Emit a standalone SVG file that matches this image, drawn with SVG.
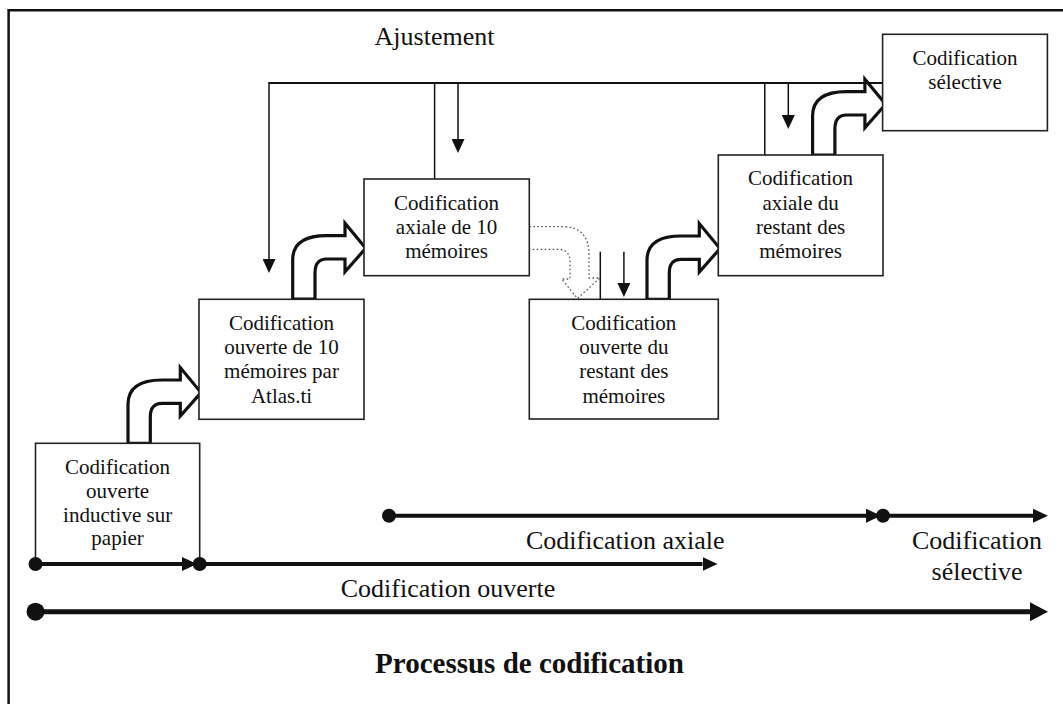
<svg xmlns="http://www.w3.org/2000/svg" width="1063" height="704" viewBox="0 0 1063 704">
  <style>
    .frame { fill: none; stroke: #111; stroke-width: 2.5; }
    .box { fill: #fff; stroke: #222; stroke-width: 1.6; }
    .lbl { font-family: "Liberation Serif", "Times New Roman", serif; font-size: 21px; fill: #111; text-anchor: middle; }
    .big { font-family: "Liberation Serif", "Times New Roman", serif; font-size: 26px; fill: #111; text-anchor: middle; }
    .title { font-family: "Liberation Serif", "Times New Roman", serif; font-size: 29px; font-weight: bold; fill: #111; text-anchor: middle; }
    .fb { fill: none; stroke: #111; stroke-width: 1.5; }
    .fbtop { fill: none; stroke: #111; stroke-width: 2.2; }
    .bend { fill: #fff; stroke: #111; stroke-width: 3.2; stroke-linejoin: miter; }
    .bend-dot { fill: none; stroke: #555; stroke-width: 1.3; stroke-dasharray: 1.6 2.4; }
    .tl { fill: none; stroke: #111; stroke-width: 4; }
    .tl-main { fill: none; stroke: #111; stroke-width: 5; }
    .dot { fill: #111; }
  </style>
  <defs>
    <marker id="thin" markerUnits="userSpaceOnUse" markerWidth="14" markerHeight="13" refX="0" refY="6.5" orient="auto">
      <path d="M0,0 L14,6.5 L0,13 z" fill="#111"/>
    </marker>
    <marker id="tl" markerUnits="userSpaceOnUse" markerWidth="15" markerHeight="14" refX="0" refY="7" orient="auto">
      <path d="M0,0 L15,7 L0,14 z" fill="#111"/>
    </marker>
    <marker id="tlbig" markerUnits="userSpaceOnUse" markerWidth="18" markerHeight="19" refX="0" refY="9.5" orient="auto">
      <path d="M0,0 L18,9.5 L0,19 z" fill="#111"/>
    </marker>
    <!-- bent block arrow, base at the origin, pointing up then right -->
    <path id="bent" d="M0,0 V-39 Q0,-63.3 34,-63.3 H52.3 V-75.7 L73,-50.7 L52.3,-27.3 V-40 H34 Q22.3,-40 22.3,-26 V0 Z"/>
  </defs>

  <!-- page frame -->
  <path class="frame" d="M8.6,704 V10.3 H1063"/>

  <text class="big" x="434.5" y="45">Ajustement</text>

  <!-- connectors -->
  <g id="connectors">
    <!-- adjustment loop -->
    <path class="fbtop" d="M269,83 H883"/>
    <path class="fb" d="M269,82 V259" marker-end="url(#thin)"/>
    <path class="fb" d="M434.6,83 V179"/>
    <path class="fb" d="M458,83 V139" marker-end="url(#thin)"/>
    <path class="fb" d="M764.8,83 V155"/>
    <path class="fb" d="M788.3,83 V115" marker-end="url(#thin)"/>
    <path class="fb" d="M600.3,251.7 V299.3"/>
    <path class="fb" d="M623.9,251.7 V283" marker-end="url(#thin)"/>

    <!-- bent block arrows between stages -->
    <use href="#bent" class="bend" transform="translate(128,443.3)"/>
    <use href="#bent" class="bend" transform="translate(292.7,299)"/>
    <use href="#bent" class="bend" transform="translate(647,299.3)"/>
    <use href="#bent" class="bend" transform="translate(812.6,155)"/>

    <!-- dotted bent arrow down to the open coding of the rest -->
    <path class="bend-dot" d="M529.3,226.7 H563 Q589,226.7 589,255 V278 L600,278 L577.5,298.5 L561.7,279 L570,279 V262 Q570,249.3 558,249.3 H529.3"/>
  </g>

  <!-- stage boxes -->
  <g id="node-inductive">
    <rect class="box" x="35.5" y="443.3" width="164.2" height="120.7"/>
    <text class="lbl" x="117.6" y="474">Codification</text>
    <text class="lbl" x="117.6" y="498">ouverte</text>
    <text class="lbl" x="117.6" y="522">inductive sur</text>
    <text class="lbl" x="117.6" y="545">papier</text>
  </g>
  <g id="node-ouverte-10">
    <rect class="box" x="199" y="299.3" width="165" height="120"/>
    <text class="lbl" x="281.5" y="330">Codification</text>
    <text class="lbl" x="281.5" y="354">ouverte de 10</text>
    <text class="lbl" x="281.5" y="378">mémoires par</text>
    <text class="lbl" x="281.5" y="402.5">Atlas.ti</text>
  </g>
  <g id="node-axiale-10">
    <rect class="box" x="364" y="179" width="165.3" height="96.7"/>
    <text class="lbl" x="446.6" y="210">Codification</text>
    <text class="lbl" x="446.6" y="233.5">axiale de 10</text>
    <text class="lbl" x="446.6" y="258">mémoires</text>
  </g>
  <g id="node-ouverte-restant">
    <rect class="box" x="529.3" y="299.3" width="189" height="119.7"/>
    <text class="lbl" x="623.8" y="330">Codification</text>
    <text class="lbl" x="623.8" y="353.5">ouverte du</text>
    <text class="lbl" x="623.8" y="378">restant des</text>
    <text class="lbl" x="623.8" y="403">mémoires</text>
  </g>
  <g id="node-axiale-restant">
    <rect class="box" x="718.3" y="155" width="164.7" height="120.7"/>
    <text class="lbl" x="800.6" y="185">Codification</text>
    <text class="lbl" x="800.6" y="210">axiale du</text>
    <text class="lbl" x="800.6" y="233.5">restant des</text>
    <text class="lbl" x="800.6" y="258">mémoires</text>
  </g>
  <g id="node-selective">
    <rect class="box" x="882.6" y="34.3" width="164.8" height="96.4"/>
    <text class="lbl" x="965" y="65">Codification</text>
    <text class="lbl" x="965" y="89.3">sélective</text>
  </g>

  <!-- coding timelines -->
  <g id="timeline">
    <line class="tl" x1="35.5" y1="564" x2="182" y2="564" marker-end="url(#tl)"/>
    <circle class="dot" cx="35.5" cy="564" r="7"/>
    <line class="tl" x1="199.7" y1="564" x2="702.5" y2="564" marker-end="url(#tl)"/>
    <circle class="dot" cx="199.7" cy="564" r="7"/>

    <line class="tl" x1="389" y1="515.7" x2="866" y2="515.7" marker-end="url(#tl)"/>
    <circle class="dot" cx="389" cy="515.7" r="7"/>
    <line class="tl" x1="883" y1="515.7" x2="1033" y2="515.7" marker-end="url(#tl)"/>
    <circle class="dot" cx="883" cy="515.7" r="7"/>

    <line class="tl-main" x1="35.5" y1="611.7" x2="1030" y2="611.7" marker-end="url(#tlbig)"/>
    <circle class="dot" cx="35.5" cy="611.7" r="9"/>

    <text class="big" x="625.3" y="549">Codification axiale</text>
    <text class="big" x="448" y="596.7">Codification ouverte</text>
    <text class="big" x="977" y="549">Codification</text>
    <text class="big" x="977" y="580">sélective</text>
  </g>

  <text class="title" x="529.5" y="673">Processus de codification</text>
</svg>
